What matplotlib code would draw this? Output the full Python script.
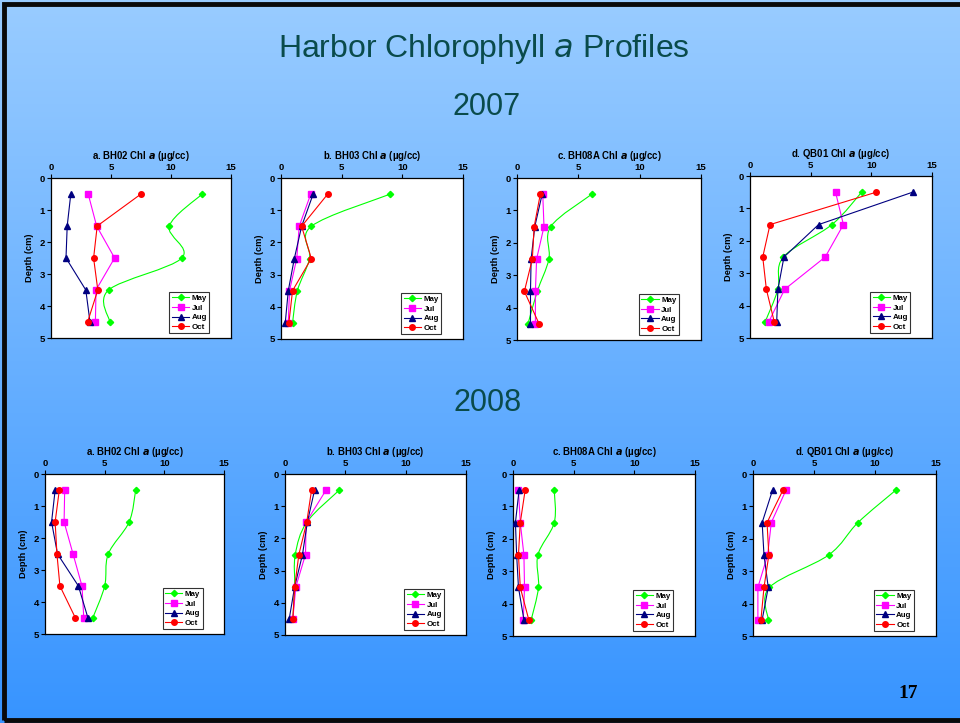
import matplotlib
matplotlib.use("Agg")
import matplotlib.pyplot as plt
import numpy as np
from matplotlib.lines import Line2D
from matplotlib.path import Path
from matplotlib.patches import PathPatch, Rectangle

plt.rcParams["font.family"] = ["Liberation Sans", "DejaVu Sans"]

# depth of each sample (cm)
depths = [0.5, 1.5, 2.5, 3.5, 4.5]
months = ["May", "Jul", "Aug", "Oct"]
stations = ["a. BH02", "b. BH03", "c. BH08A", "d. QB01"]

# Chl a (ug/cc) per station, order May, Jul, Aug, Oct
chl_2007 = {
    "a. BH02": [
        [12.6, 9.86, 10.9, 4.8, 4.9],
        [3.1, 3.8, 5.3, 3.75, 3.7],
        [1.65, 1.35, 1.25, 2.9, 3.25],
        [7.5, 3.85, 3.55, 3.9, 3.05],
    ],
    "b. BH03": [
        [9.0, 2.5, 2.35, 1.35, 0.95],
        [2.45, 1.5, 1.3, 0.7, 0.6],
        [2.65, 1.7, 1.1, 0.6, 0.35],
        [3.85, 1.7, 2.5, 0.95, 0.65],
    ],
    "c. BH08A": [
        [6.1, 2.75, 2.6, 1.65, 0.9],
        [2.1, 2.2, 1.6, 1.5, 1.5],
        [2.05, 1.45, 1.15, 1.1, 1.1],
        [1.9, 1.4, 1.25, 0.6, 1.8],
    ],
    "d. QB01": [
        [9.2, 6.75, 2.75, 2.3, 1.25],
        [7.05, 7.7, 6.2, 2.85, 1.55],
        [13.4, 5.65, 2.8, 2.3, 2.2],
        [10.4, 1.65, 1.05, 1.35, 2.0],
    ],
}

chl_2008 = {
    "a. BH02": [
        [7.6, 7.05, 5.3, 5.0, 4.0],
        [1.65, 1.6, 2.35, 3.1, 3.25],
        [0.85, 0.55, 1.05, 2.8, 3.6],
        [1.2, 0.85, 1.0, 1.25, 2.55],
    ],
    "b. BH03": [
        [4.5, 1.8, 0.85, 0.8, 0.65],
        [3.4, 1.75, 1.7, 0.9, 0.65],
        [2.45, 1.85, 1.45, 0.8, 0.35],
        [2.2, 1.8, 1.15, 0.8, 0.65],
    ],
    "c. BH08A": [
        [3.4, 3.4, 2.05, 2.1, 1.5],
        [0.45, 0.6, 0.9, 0.95, 0.85],
        [0.5, 0.2, 0.3, 0.45, 0.9],
        [1.0, 0.6, 0.45, 0.6, 1.3],
    ],
    "d. QB01": [
        [11.7, 8.6, 6.2, 1.35, 1.25],
        [2.7, 1.5, 1.2, 0.4, 0.4],
        [1.6, 0.75, 0.9, 1.25, 0.75],
        [2.45, 1.15, 1.3, 0.9, 0.65],
    ],
}

colors = ["#00ff00", "#ff00ff", "#000080", "#ff0000"]
markers = ["D", "s", "^", "o"]
msizes = [3.2, 3.8, 4.2, 4.0]
smoothed = [True, False, False, False]

W, H = 960, 723
title_color = "#0a4b4b"

# axes boxes in pixels: left, top, right, bottom
boxes_2007 = [(51, 178, 231, 338), (281, 178, 463, 339),
              (517, 178, 701, 340), (750, 176, 932, 338)]
boxes_2008 = [(45, 474, 224, 634), (285, 474, 466, 635),
              (513, 474, 695, 636), (753, 474, 936, 636)]


def smooth_path(x, y):
    # Bezier path through the points, like Excel's smoothed line
    pts = np.column_stack([x, y])
    ext = np.vstack([pts[0], pts, pts[-1]])
    verts = [pts[0]]
    codes = [Path.MOVETO]
    for i in range(len(pts) - 1):
        p0, p1, p2, p3 = ext[i], ext[i + 1], ext[i + 2], ext[i + 3]
        verts += [p1 + (p2 - p0) / 6.0, p2 - (p3 - p1) / 6.0, p2]
        codes += [Path.CURVE4] * 3
    return Path(verts, codes)


def draw_panel(fig, box, name, series):
    l, t, r, b = box
    ax = fig.add_axes([l / W, 1 - b / H, (r - l) / W, (b - t) / H])
    ax.set_facecolor("white")
    for i, vals in enumerate(series):
        if smoothed[i]:
            ax.add_patch(PathPatch(smooth_path(vals, depths), facecolor="none",
                                   edgecolor=colors[i], lw=0.8, zorder=2))
            ax.plot(vals, depths, linestyle="none", marker=markers[i],
                    ms=msizes[i], color=colors[i], zorder=3)
        else:
            ax.plot(vals, depths, marker=markers[i], ms=msizes[i],
                    color=colors[i], lw=0.8, zorder=3)
    ax.set_xlim(0, 15)
    ax.set_ylim(5, 0)
    ax.set_xticks([0, 5, 10, 15])
    ax.set_yticks([0, 1, 2, 3, 4, 5])
    ax.xaxis.tick_top()
    ax.tick_params(labelsize=6.8, length=3, width=0.8, pad=1.5)
    for lab in ax.get_xticklabels() + ax.get_yticklabels():
        lab.set_fontweight("bold")
    for sp in ax.spines.values():
        sp.set_linewidth(0.9)
    ax.set_ylabel("Depth (cm)", fontsize=6.7, fontweight="bold", labelpad=4)
    ax.set_title(name + " Chl $\\mathbfit{a}$ (µg/cc)", fontsize=6.9,
                 fontweight="bold", pad=14)
    handles = [Line2D([], [], color=colors[i], marker=markers[i],
                      ms=msizes[i], lw=0.8) for i in range(4)]
    leg = ax.legend(handles, months, loc="lower right",
                    bbox_to_anchor=(0.88, 0.03), fontsize=5.7, frameon=True,
                    fancybox=False, edgecolor="black", handlelength=2.2,
                    handletextpad=0.3, borderpad=0.3, labelspacing=0.25,
                    borderaxespad=0)
    leg.get_frame().set_linewidth(0.8)
    for txt in leg.get_texts():
        txt.set_fontweight("bold")
    return ax


fig = plt.figure(figsize=(W / 100, H / 100), dpi=100)

# gradient background
bg = fig.add_axes([0, 0, 1, 1], zorder=-10)
top = np.array([153, 204, 255]) / 255.0
bot = np.array([55, 148, 255]) / 255.0
frac = np.linspace(0, 1, 256)[:, None]
grad = top[None, :] * (1 - frac) + bot[None, :] * frac
bg.imshow(grad[:, None, :], aspect="auto", extent=[0, 1, 0, 1])
bg.add_patch(Rectangle((4 / W, 3 / H), 1.2, 1 - 7 / H, fill=False,
                       edgecolor="#0a0a0a", lw=3.5))
bg.set_xlim(0, 1)
bg.set_ylim(0, 1)
bg.axis("off")

fig.text(484 / W, 1 - 49 / H, "Harbor Chlorophyll $\\it{a}$ Profiles",
         ha="center", va="center", fontsize=23, color=title_color)
fig.text(487 / W, 1 - 107 / H, "2007", ha="center", va="center",
         fontsize=22, color=title_color)
fig.text(488 / W, 1 - 403 / H, "2008", ha="center", va="center",
         fontsize=22, color=title_color)
fig.text(908 / W, 1 - 693 / H, "17", ha="center", va="center",
         fontsize=14, fontweight="bold", family="Liberation Serif")

for box, name in zip(boxes_2007, stations):
    draw_panel(fig, box, name, chl_2007[name])
for box, name in zip(boxes_2008, stations):
    draw_panel(fig, box, name, chl_2008[name])

fig.savefig("out.png", dpi=100)
